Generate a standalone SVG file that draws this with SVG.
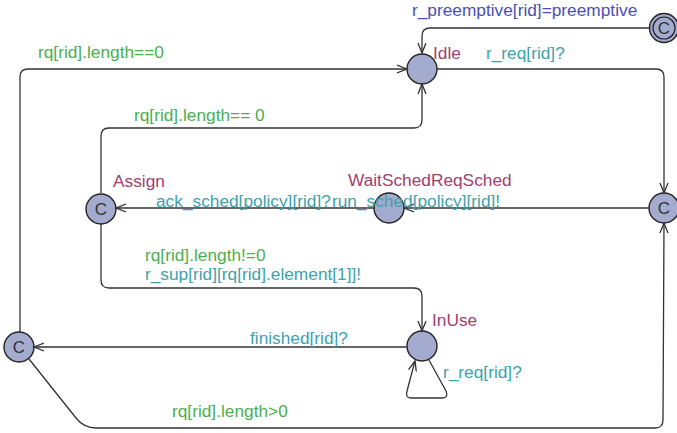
<svg xmlns="http://www.w3.org/2000/svg" width="677" height="433" viewBox="0 0 677 433">
  <style>
    text { font-family: "Liberation Sans", Arial, sans-serif; font-size: 17.3px; }
    .loc { fill: #a3acce; stroke: #222; stroke-width: 1.4; }
    .cm { fill: #333; font-size: 17px; text-anchor: middle; }
    .name { fill: #a0406e; }
    .guard { fill: #4cae4f; }
    .sync { fill: #3ea2ac; }
    .assign { fill: #4a50b6; }
    .edge { fill: none; stroke: #333; stroke-width: 1.3; marker-end: url(#arr); }
  </style>
  <defs>
    <marker id="arr" markerWidth="12" markerHeight="10" refX="10" refY="5" orient="auto" markerUnits="userSpaceOnUse">
      <path d="M0,1 L10,5 L0,9" fill="none" stroke="#333" stroke-width="1.3"/>
    </marker>
  </defs>

  <!-- locations -->
  <g id="init">
    <circle class="loc" cx="664" cy="28" r="14.5"/>
    <circle fill="none" stroke="#222" stroke-width="1.2" cx="664" cy="28" r="11"/>
    <text class="cm" x="664" y="34">C</text>
  </g>
  <g id="idle">
    <circle class="loc" cx="422" cy="69" r="15"/>
    <text class="name" x="433" y="59">Idle</text>
  </g>
  <g id="rightC">
    <circle class="loc" cx="664" cy="208" r="15"/>
    <text class="cm" x="664" y="214">C</text>
  </g>
  <g id="waitSchedReqSched">
    <circle class="loc" cx="389" cy="208" r="15"/>
    <text class="name" x="348" y="186">WaitSchedReqSched</text>
  </g>
  <g id="assign">
    <circle class="loc" cx="101" cy="209" r="15"/>
    <text class="cm" x="101" y="215">C</text>
    <text class="name" x="113" y="187">Assign</text>
  </g>
  <g id="inUse">
    <circle class="loc" cx="422" cy="346" r="15"/>
    <text class="name" x="432" y="326">InUse</text>
  </g>
  <g id="leftC">
    <circle class="loc" cx="19" cy="347" r="15"/>
    <text class="cm" x="19" y="353">C</text>
  </g>

  <!-- transitions with their labels -->
  <g id="edges">
    <path class="edge" d="M649,28 L430,28 Q422,28 422,36 L422,53"/>
    <path class="edge" d="M437,69 L656,69 Q664,69 664,77 L664,193"/>
    <path class="edge" d="M649,208 L404,208"/>
    <path class="edge" d="M374,208 L116,208"/>
    <path class="edge" d="M101,193 L101,136 Q101,128 109,128 L414,128 Q422,128 422,120 L422,84"/>
    <path class="edge" d="M101,224 L101,280 Q101,288 109,288 L414,288 Q422,288 422,296 L422,331"/>
    <path class="edge" d="M407,347 L34,347"/>
    <path class="edge" d="M20,332 L20,77 Q20,69 28,69 L407,69"/>
    <path class="edge" d="M29,359 L76,418 Q84,428 96,428 L655,428 Q663,428 663,420 L664,223"/>
    <path class="edge" d="M429,360 L446,391 Q449,398 442,398 L411,398 Q405,398 407,391 L415,361"/>

    <text class="assign" x="412" y="16">r_preemptive[rid]=preemptive</text>
    <text class="sync" x="486" y="59">r_req[rid]?</text>
    <text class="guard" x="38" y="58">rq[rid].length==0</text>
    <text class="guard" x="134" y="121">rq[rid].length== 0</text>
    <text class="sync" x="156" y="207">ack_sched[policy][rid]?</text>
    <text class="sync" x="332" y="207">run_sched[policy][rid]!</text>
    <text class="guard" x="145" y="261">rq[rid].length!=0</text>
    <text class="sync" x="145" y="280">r_sup[rid][rq[rid].element[1]]!</text>
    <text class="sync" x="250" y="344">finished[rid]?</text>
    <text class="sync" x="443" y="378">r_req[rid]?</text>
    <text class="guard" x="172" y="417">rq[rid].length&gt;0</text>
  </g>
</svg>
